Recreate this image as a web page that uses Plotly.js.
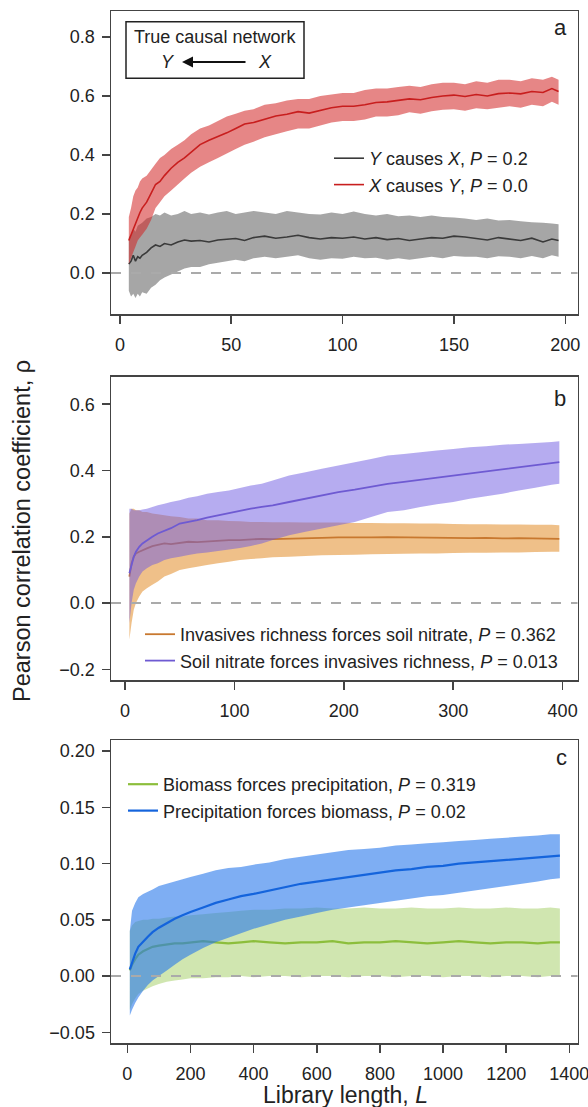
<!DOCTYPE html>
<html><head><meta charset="utf-8">
<script src="https://cdn.plot.ly/plotly-3.0.1.min.js"></script>
<style>html,body{margin:0;padding:0;background:#fff}#chart{width:588px;height:1107px}</style>
</head><body><div id="chart"></div><script>
// ---------- Panel a : library length 0-200 ----------
var libA = [4,5,6,7,8,9,10,12,14,16,18,20,23,26,29,32,36,40,44,48,52,56,60,65,70,75,80,85,90,95,100,105,110,115,120,125,130,135,140,145,150,155,160,165,170,175,180,185,190,194,197];
var redMean = [0.11,0.13,0.15,0.17,0.19,0.205,0.22,0.24,0.27,0.30,0.31,0.33,0.355,0.375,0.39,0.41,0.435,0.45,0.462,0.475,0.49,0.505,0.51,0.522,0.532,0.538,0.547,0.542,0.552,0.56,0.565,0.565,0.57,0.578,0.58,0.585,0.59,0.587,0.595,0.60,0.603,0.598,0.605,0.60,0.608,0.61,0.607,0.615,0.612,0.625,0.615];
var redHi = [0.19,0.22,0.26,0.28,0.29,0.31,0.32,0.33,0.35,0.37,0.39,0.40,0.42,0.435,0.45,0.47,0.49,0.50,0.515,0.53,0.54,0.55,0.555,0.57,0.575,0.585,0.59,0.59,0.60,0.605,0.61,0.61,0.62,0.625,0.625,0.63,0.635,0.63,0.64,0.645,0.645,0.64,0.65,0.645,0.655,0.655,0.65,0.66,0.655,0.665,0.655];
var redLo = [0.03,0.05,0.07,0.09,0.11,0.12,0.13,0.15,0.18,0.22,0.24,0.26,0.28,0.30,0.32,0.34,0.36,0.375,0.39,0.405,0.42,0.435,0.445,0.46,0.47,0.48,0.49,0.49,0.50,0.51,0.515,0.515,0.52,0.53,0.53,0.535,0.545,0.54,0.548,0.553,0.555,0.55,0.558,0.555,0.56,0.565,0.56,0.57,0.565,0.58,0.57];
var grayMean = [0.03,0.04,0.06,0.04,0.055,0.05,0.06,0.07,0.085,0.095,0.09,0.10,0.095,0.105,0.112,0.108,0.11,0.105,0.112,0.115,0.117,0.11,0.12,0.125,0.118,0.122,0.128,0.12,0.115,0.12,0.118,0.122,0.115,0.12,0.113,0.117,0.11,0.115,0.12,0.118,0.125,0.122,0.118,0.112,0.12,0.115,0.11,0.118,0.105,0.115,0.11];
var grayHi = [0.12,0.13,0.15,0.14,0.16,0.165,0.17,0.185,0.19,0.2,0.195,0.205,0.195,0.2,0.21,0.2,0.205,0.198,0.205,0.21,0.2,0.205,0.21,0.205,0.2,0.21,0.205,0.2,0.198,0.205,0.2,0.208,0.2,0.195,0.2,0.192,0.195,0.19,0.195,0.19,0.188,0.185,0.18,0.185,0.178,0.18,0.175,0.172,0.17,0.168,0.165];
var grayLo = [-0.06,-0.08,-0.07,-0.085,-0.07,-0.08,-0.065,-0.07,-0.05,-0.04,-0.025,-0.015,-0.005,0.005,0.015,0.02,0.02,0.03,0.035,0.04,0.045,0.04,0.05,0.055,0.05,0.055,0.06,0.05,0.045,0.05,0.048,0.055,0.05,0.052,0.045,0.05,0.045,0.05,0.055,0.05,0.058,0.055,0.055,0.05,0.057,0.055,0.05,0.058,0.05,0.06,0.055];

// ---------- Panel b : library length 0-400 ----------
var libB = [4,6,8,10,13,16,20,25,30,36,42,50,58,66,75,85,95,105,115,125,135,150,165,180,195,210,225,240,255,270,285,300,315,330,345,360,375,390,397];
var orMean = [0.08,0.12,0.14,0.15,0.155,0.16,0.165,0.172,0.175,0.18,0.178,0.182,0.185,0.184,0.186,0.188,0.19,0.19,0.192,0.194,0.193,0.195,0.196,0.197,0.198,0.197,0.198,0.199,0.198,0.197,0.198,0.197,0.196,0.197,0.195,0.196,0.195,0.194,0.194];
var orHi = [0.27,0.285,0.285,0.28,0.28,0.275,0.275,0.27,0.268,0.265,0.262,0.26,0.255,0.255,0.25,0.25,0.248,0.247,0.245,0.245,0.244,0.244,0.243,0.243,0.243,0.242,0.242,0.241,0.241,0.24,0.24,0.239,0.238,0.238,0.237,0.237,0.236,0.236,0.235];
var orLo = [-0.11,-0.06,-0.02,0.0,0.02,0.035,0.045,0.055,0.065,0.08,0.088,0.1,0.105,0.11,0.115,0.12,0.125,0.13,0.133,0.135,0.138,0.14,0.142,0.144,0.145,0.146,0.147,0.148,0.149,0.15,0.15,0.151,0.152,0.152,0.153,0.153,0.154,0.155,0.155];
var puMean = [0.09,0.12,0.14,0.155,0.17,0.18,0.19,0.2,0.21,0.218,0.226,0.24,0.245,0.25,0.258,0.265,0.27,0.278,0.285,0.29,0.295,0.305,0.315,0.325,0.335,0.342,0.352,0.36,0.366,0.372,0.38,0.385,0.39,0.396,0.404,0.41,0.415,0.422,0.425];
var puHi = [0.285,0.285,0.28,0.28,0.28,0.282,0.285,0.29,0.295,0.30,0.305,0.31,0.318,0.322,0.33,0.335,0.34,0.347,0.355,0.36,0.37,0.385,0.395,0.405,0.415,0.425,0.435,0.445,0.45,0.455,0.46,0.465,0.47,0.473,0.478,0.48,0.483,0.486,0.488];
var puLo = [-0.06,0.0,0.04,0.06,0.08,0.095,0.105,0.115,0.12,0.13,0.135,0.14,0.145,0.15,0.153,0.157,0.162,0.166,0.172,0.18,0.19,0.205,0.215,0.225,0.235,0.245,0.26,0.275,0.28,0.29,0.298,0.305,0.315,0.322,0.33,0.34,0.348,0.357,0.36];

// ---------- Panel c : library length 0-1400 ----------
var libC = [8,15,25,35,50,65,80,100,125,150,175,200,240,280,320,360,400,450,500,550,600,650,700,750,800,850,900,950,1000,1050,1100,1150,1200,1250,1300,1340,1370];
var blMean = [0.006,0.012,0.02,0.026,0.031,0.035,0.039,0.043,0.047,0.051,0.054,0.057,0.061,0.065,0.068,0.071,0.073,0.076,0.079,0.082,0.084,0.086,0.088,0.09,0.092,0.094,0.095,0.097,0.098,0.1,0.101,0.102,0.103,0.104,0.105,0.106,0.107];
var blHi = [0.04,0.058,0.065,0.07,0.073,0.075,0.077,0.08,0.082,0.084,0.086,0.088,0.091,0.094,0.096,0.097,0.099,0.101,0.104,0.106,0.108,0.11,0.112,0.113,0.114,0.116,0.117,0.118,0.119,0.12,0.121,0.122,0.123,0.124,0.125,0.126,0.126];
var blLo = [-0.035,-0.03,-0.024,-0.019,-0.013,-0.008,-0.004,0.0,0.005,0.01,0.015,0.019,0.025,0.03,0.034,0.038,0.042,0.046,0.05,0.053,0.056,0.059,0.061,0.063,0.065,0.067,0.069,0.071,0.072,0.074,0.076,0.078,0.08,0.082,0.084,0.086,0.087];
var grMean = [0.005,0.01,0.015,0.019,0.022,0.024,0.026,0.027,0.028,0.029,0.029,0.03,0.031,0.03,0.029,0.03,0.031,0.03,0.029,0.03,0.03,0.031,0.029,0.03,0.03,0.031,0.03,0.029,0.03,0.031,0.03,0.029,0.03,0.03,0.029,0.03,0.03];
var grHi = [0.04,0.045,0.048,0.049,0.05,0.05,0.051,0.051,0.052,0.053,0.053,0.054,0.055,0.056,0.057,0.058,0.059,0.059,0.06,0.06,0.061,0.06,0.06,0.061,0.06,0.06,0.061,0.06,0.06,0.061,0.06,0.06,0.061,0.06,0.06,0.061,0.06];
var grLo = [-0.03,-0.025,-0.02,-0.016,-0.013,-0.011,-0.009,-0.007,-0.005,-0.004,-0.003,-0.002,-0.002,-0.001,-0.001,0.0,-0.001,0.0,0.0,-0.001,0.0,0.0,-0.001,0.0,0.0,-0.001,0.0,0.0,-0.001,0.0,0.0,-0.001,0.0,0.0,-0.001,0.0,0.0];

var namesA = ['<i>Y</i> causes <i>X</i>, <i>P</i> = 0.2', '<i>X</i> causes <i>Y</i>, <i>P</i> = 0.0'];
var namesB = ['Invasives richness forces soil nitrate, <i>P</i> = 0.362', 'Soil nitrate forces invasives richness, <i>P</i> = 0.013'];
var namesC = ['Biomass forces precipitation, <i>P</i> = 0.319', 'Precipitation forces biomass, <i>P</i> = 0.02'];

var FONT = 'Liberation Sans, Arial, Helvetica, sans-serif';
var W = 588, H = 1107;
function px(x){return x/W;}
function py(y){return 1 - y/H;}

function band(x, lo, hi, color, xa, ya){
  return {x: x.concat(x.slice().reverse()), y: hi.concat(lo.slice().reverse()),
    type:'scatter', mode:'none', fill:'toself', fillcolor:color, hoverinfo:'skip',
    showlegend:false, xaxis:xa, yaxis:ya};
}
function line(x, y, color, w, name, xa, ya, leg){
  return {x:x, y:y, type:'scatter', mode:'lines', line:{color:color, width:w},
    name:name, xaxis:xa, yaxis:ya, legend:leg, showlegend:true};
}

var data = [
  band(libA, grayLo, grayHi, 'rgba(128,128,128,0.7)', 'x', 'y'),
  line(libA, grayMean, '#3a3a3a', 1.6, namesA[0], 'x', 'y', 'legend'),
  band(libA, redLo, redHi, 'rgba(210,35,35,0.55)', 'x', 'y'),
  line(libA, redMean, '#c81e1e', 1.6, namesA[1], 'x', 'y', 'legend'),

  band(libB, orLo, orHi, 'rgba(225,140,40,0.55)', 'x2', 'y2'),
  line(libB, orMean, '#c8782f', 1.8, namesB[0], 'x2', 'y2', 'legend2'),
  band(libB, puLo, puHi, 'rgba(110,90,225,0.5)', 'x2', 'y2'),
  line(libB, puMean, '#6e5ad2', 1.8, namesB[1], 'x2', 'y2', 'legend2'),

  band(libC, grLo, grHi, 'rgba(150,200,80,0.45)', 'x3', 'y3'),
  line(libC, grMean, '#8cbe3c', 2.2, namesC[0], 'x3', 'y3', 'legend3'),
  band(libC, blLo, blHi, 'rgba(40,120,235,0.6)', 'x3', 'y3'),
  line(libC, blMean, '#1464dc', 2.2, namesC[1], 'x3', 'y3', 'legend3')
];

function xax(range, tv, anchor){
  return {domain:[px(111), px(577.5)], range:range, tickvals:tv, anchor:anchor,
    showline:true, mirror:true, linecolor:'#444', linewidth:1.5, ticks:'outside', ticklen:8,
    tickwidth:1.5, tickcolor:'#444', showgrid:false, zeroline:false, ticklabeloverflow:'allow',
    tickfont:{family:FONT, size:18, color:'#222'}, ticklabelstandoff:6, fixedrange:true};
}
function yax(dom, range, tv, fmt, anchor){
  return {domain:dom, range:range, tickvals:tv, tickformat:fmt, anchor:anchor,
    showline:true, mirror:true, linecolor:'#444', linewidth:1.5, ticks:'outside', ticklen:8,
    tickwidth:1.5, tickcolor:'#444', showgrid:false, zeroline:false, ticklabeloverflow:'allow',
    tickfont:{family:FONT, size:18, color:'#222'}, ticklabelstandoff:3, fixedrange:true};
}
function legend(x, y){
  return {x:px(x), y:py(y), xanchor:'left', yanchor:'top', bgcolor:'rgba(0,0,0,0)',
    font:{family:FONT, size:18, color:'#222'}, tracegroupgap:0, borderwidth:0};
}
function zeroLine(xr, yr){
  return {type:'line', xref:xr+' domain', yref:yr, x0:0, x1:1, y0:0, y1:0,
    line:{color:'#aaaaaa', width:2, dash:'10px,10px'}, layer:'above'};
}
function ann(text, x, y, size, extra){
  var a = {text:text, x:px(x), y:py(y), xref:'paper', yref:'paper', showarrow:false,
    xanchor:'center', yanchor:'middle', font:{family:FONT, size:size, color:'#222'}};
  for (var k in extra) a[k] = extra[k];
  return a;
}

var layout = {
  width:W, height:H, margin:{l:0, r:0, t:0, b:0},
  paper_bgcolor:'#fff', plot_bgcolor:'#fff', font:{family:FONT},
  xaxis: xax([-4.0, 205.5], [0,50,100,150,200], 'y'),
  yaxis: yax([py(314), py(11)], [-0.139, 0.888], [0,0.2,0.4,0.6,0.8], '.1f', 'x'),
  xaxis2: xax([-12.8, 413.6], [0,100,200,300,400], 'y2'),
  yaxis2: yax([py(680), py(376.7)], [-0.232, 0.683], [-0.2,0,0.2,0.4,0.6], '.1f', 'x2'),
  xaxis3: xax([-51.6, 1425.8], [0,200,400,600,800,1000,1200,1400], 'y3'),
  yaxis3: yax([py(1043), py(740)], [-0.0595, 0.2098], [-0.05,0,0.05,0.1,0.15,0.2], '.2f', 'x3'),
  legend: legend(329, 140),
  legend2: legend(140, 616),
  legend3: legend(123, 766),
  shapes: [
    zeroLine('x','y'), zeroLine('x2','y2'), zeroLine('x3','y3'),
    {type:'rect', xref:'paper', yref:'paper', x0:px(126), x1:px(304), y0:py(78.3), y1:py(21.7),
     line:{color:'#222', width:1.5}, fillcolor:'rgba(0,0,0,0)'}
  ],
  annotations: [
    ann('True causal network', 215, 37, 18),
    ann('<i>Y</i>', 168, 62, 18),
    ann('<i>X</i>', 265, 62, 18),
    {text:'', x:px(182), y:py(62), xref:'paper', yref:'paper', showarrow:true,
     ax:65, ay:0, arrowhead:2, arrowsize:1.1, arrowwidth:2, arrowcolor:'#111', standoff:0},
    ann('a', 560, 27, 22),
    ann('b', 560, 398, 22),
    ann('c', 561, 757, 22),
    ann('Pearson correlation coefficient, \u03c1', 22, 531, 23.5, {textangle:-90}),
    ann('Library length, <i>L</i>', 345, 1095, 23)
  ]
};

Plotly.newPlot('chart', data, layout, {displayModeBar:false, staticPlot:true});
</script></body></html>
